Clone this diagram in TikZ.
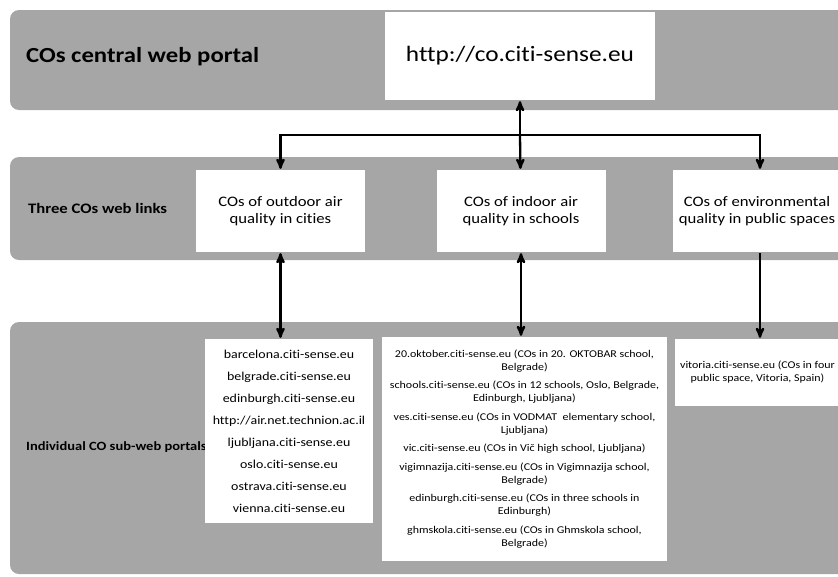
\documentclass[tikz,border=0pt]{standalone}
\usepackage{fontspec}
\setmainfont{Carlito}[FakeStretch=1.15,Ligatures=NoCommon]
\usetikzlibrary{arrows,positioning}

\begin{document}
\begin{tikzpicture}[x=1pt,y=-1pt,>=stealth',line width=2.3pt,
    band/.style={fill=black!35,rounded corners=9pt},
    linkbox/.style={fill=white,minimum width=169pt,minimum height=82pt,align=center,font=\fontsize{14.5}{17.5}\selectfont},
    listbox/.style={fill=white,align=center,inner sep=0pt}]

  \clip (0,0) rectangle (838,576);

  % grey layers
  \path[band] (10,10) rectangle (860,110);
  \path[band] (10,157) rectangle (860,260);
  \path[band] (10,322) rectangle (860,574);

  \node[anchor=west,inner xsep=0pt,font=\bfseries\fontsize{21.5}{24}\selectfont] (toplabel) at (25,57) {COs central web portal};
  \node[anchor=west,inner xsep=0pt,font=\bfseries\fontsize{14.5}{17}\selectfont] (midlabel) at (27,208) {Three COs web links};
  \node[anchor=west,inner xsep=0pt,font=\bfseries\fontsize{12.6}{15}\selectfont] (sublabel) at (25,447) {Individual CO sub-web portals};

  \node[fill=white,minimum width=270pt,minimum height=88pt,font=\fontsize{22}{25}\selectfont] (portal) at (520,56) {http://co.citi-sense.eu};

  \node[linkbox] (outdoor) at (280.5,211) {COs of outdoor air\\quality in cities};
  \node[linkbox] (indoor)  at (521,211)   {COs of indoor air\\quality in schools};
  \node[linkbox] (environ) at (757,211)   {COs of environmental\\quality in public spaces};

  \node[listbox,minimum width=168pt,minimum height=184pt,font=\fontsize{12.1}{22}\selectfont] (citylist) at (289,431)
    {barcelona.citi-sense.eu\\belgrade.citi-sense.eu\\edinburgh.citi-sense.eu\\http://air.net.technion.ac.il\\
     ljubljana.citi-sense.eu\\oslo.citi-sense.eu\\ostrava.citi-sense.eu\\vienna.citi-sense.eu};
  \node[listbox,minimum width=285pt,minimum height=224pt,font=\fontsize{10.4}{13}\selectfont] (schoollist) at (524.5,449)
    {20.oktober.citi-sense.eu (COs in 20. OKTOBAR school,\\Belgrade)\\[5.5pt]
     schools.citi-sense.eu (COs in 12 schools, Oslo, Belgrade,\\Edinburgh, Ljubljana)\\[5.5pt]
     ves.citi-sense.eu (COs in VODMAT\ \ elementary school,\\Ljubljana)\\[5.5pt]
     vic.citi-sense.eu (COs in Vič high school, Ljubljana)\\[5.5pt]
     vigimnazija.citi-sense.eu (COs in Vigimnazija school,\\Belgrade)\\[5.5pt]
     edinburgh.citi-sense.eu (COs in three schools in\\Edinburgh)\\[5.5pt]
     ghmskola.citi-sense.eu (COs in Ghmskola school,\\Belgrade)};
  \node[listbox,minimum width=165pt,minimum height=67pt,font=\fontsize{10.4}{13}\selectfont] (spacelist) at (757.5,372.5)
    {vitoria.citi-sense.eu (COs in four\\public space, Vitoria, Spain)};

  \coordinate (hub) at (520,135);

  \draw[->] (hub) -- (portal);
  \draw[->] (hub) -| (outdoor);
  \draw[->] (hub) -- (indoor);
  \draw[->] (hub) -| ([xshift=3pt]environ.north);
  \draw[<->] (outdoor) -- (outdoor |- citylist.north);
  \draw[<->] (indoor) -- (indoor |- schoollist.north);
  \draw[->] ([xshift=3pt]environ.south) -- ([xshift=3pt]environ.south |- spacelist.north);

\end{tikzpicture}
\end{document}
